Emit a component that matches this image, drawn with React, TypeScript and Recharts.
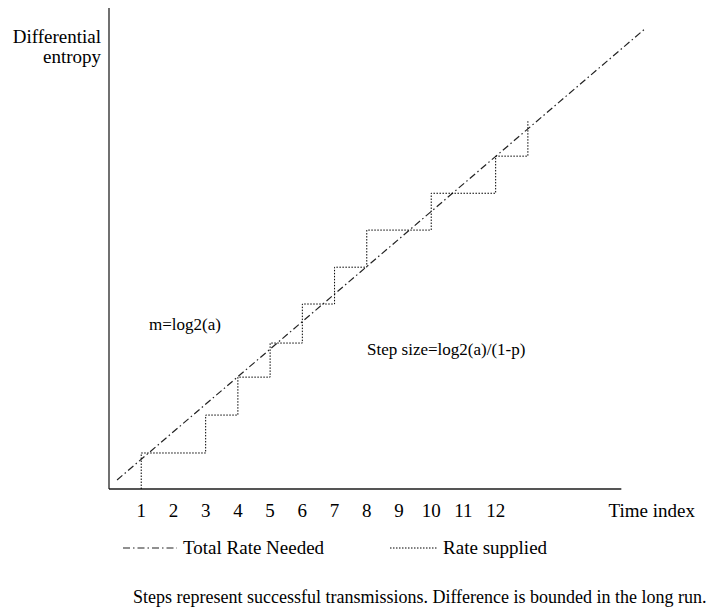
import { LineChart, Line, XAxis, YAxis, ReferenceLine, ReferenceDot } from 'recharts';

const SERIF = "'Liberation Serif', 'Times New Roman', serif";

// total rate needed (straight line)
const neededTimes = [0.25, 16.65];
const neededValues = [0.33, 16.76];

// rate supplied (staircase)
const stepTimes = [1, 1, 3, 4, 5, 6, 7, 8, 10, 12, 13];
const stepValues = [0, 1.31, 2.69, 4.07, 5.31, 6.73, 8.07, 9.42, 10.76, 12.11, 13.38];

const tickValues = [1, 2, 3, 4, 5, 6, 7, 8, 9, 10, 11, 12];
const axisEnd = 15.9;

const annotations = [
  { t: 1.24, v: 5.78, text: 'm=log2(a)' },
  { t: 8.01, v: 4.87, text: 'Step size=log2(a)/(1-p)' },
];

const neededData = neededTimes.map((t, i) => ({ t, v: neededValues[i] }));
const stepData = stepTimes.map((t, i) => ({ t, v: stepValues[i] }));

const TimeTick = ({ x, y, payload }: any) => (
  <text x={x} y={y + 28} textAnchor="middle" fontSize={19} fontFamily={SERIF} fill="#000">
    {payload.value}
  </text>
);

const TimeLabel = ({ viewBox }: any) => (
  <text
    x={viewBox.x + viewBox.width + 6}
    y={viewBox.y + 28}
    textAnchor="end"
    fontSize={19}
    fontFamily={SERIF}
    fill="#000"
  >
    Time index
  </text>
);

const EntropyLabel = ({ viewBox }: any) => (
  <text textAnchor="end" fontSize={19} fontFamily={SERIF} fill="#000">
    <tspan x={viewBox.x + viewBox.width - 8} y={viewBox.y + 35}>Differential</tspan>
    <tspan x={viewBox.x + viewBox.width - 8} y={viewBox.y + 55}>entropy</tspan>
  </text>
);

const noteLabel = (text: string) => ({ viewBox }: any) => (
  <text x={viewBox.x} y={viewBox.y} fontSize={17} fontFamily={SERIF} fill="#000">
    {text}
  </text>
);

export default function App() {
  return (
    <div style={{ position: 'absolute', left: 0, top: 0, width: 717, height: 609, background: '#fff' }}>
      <LineChart
        width={717}
        height={609}
        margin={{ top: 8, right: 28, bottom: 90, left: 99 }}
      >
        <XAxis
          dataKey="t"
          type="number"
          domain={[0, 18]}
          ticks={tickValues}
          interval={0}
          axisLine={false}
          tickLine={false}
          tickSize={0}
          tickMargin={0}
          height={30}
          tick={<TimeTick />}
          label={<TimeLabel />}
          allowDataOverflow
        />
        <YAxis
          type="number"
          domain={[0, 17.5]}
          width={10}
          tick={false}
          tickLine={false}
          axisLine={{ stroke: '#111', strokeWidth: 1.2 }}
          label={<EntropyLabel />}
          allowDataOverflow
        />
        <ReferenceLine
          segment={[{ x: 0, y: 0 }, { x: axisEnd, y: 0 }]}
          stroke="#555"
          strokeWidth={2}
          ifOverflow="visible"
        />
        <Line
          data={neededData}
          dataKey="v"
          type="linear"
          stroke="#222"
          strokeWidth={1.2}
          strokeDasharray="7 3 1.5 3"
          dot={false}
          activeDot={false}
          isAnimationActive={false}
        />
        <Line
          data={stepData}
          dataKey="v"
          type="stepAfter"
          stroke="#000"
          strokeWidth={1}
          strokeDasharray="1.5 1.5"
          dot={false}
          activeDot={false}
          isAnimationActive={false}
        />
        {annotations.map((a) => (
          <ReferenceDot
            key={a.text}
            x={a.t}
            y={a.v}
            r={0}
            stroke="none"
            fill="none"
            ifOverflow="visible"
            label={noteLabel(a.text)}
          />
        ))}
      </LineChart>

      <div
        style={{
          position: 'absolute',
          left: 123,
          top: 537,
          display: 'flex',
          alignItems: 'center',
          fontFamily: SERIF,
          fontSize: 19,
          color: '#000',
          whiteSpace: 'nowrap',
        }}
      >
        <svg width={56} height={10} style={{ marginRight: 4 }}>
          <line x1={0} y1={5} x2={54} y2={5} stroke="#222" strokeWidth={1.2} strokeDasharray="7 3 1.5 3" />
        </svg>
        <span>Total Rate Needed</span>
        <svg width={50} height={10} style={{ marginLeft: 66, marginRight: 3 }}>
          <line x1={0} y1={5} x2={48} y2={5} stroke="#000" strokeWidth={1} strokeDasharray="1.5 1.5" />
        </svg>
        <span>Rate supplied</span>
      </div>

      <div
        style={{
          position: 'absolute',
          left: 133,
          top: 587,
          fontFamily: SERIF,
          fontSize: 18,
          color: '#000',
          whiteSpace: 'nowrap',
        }}
      >
        Steps represent successful transmissions. Difference is bounded in the long run.
      </div>
    </div>
  );
}
